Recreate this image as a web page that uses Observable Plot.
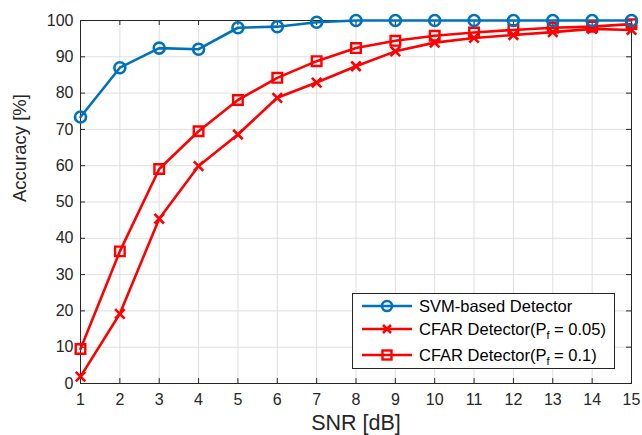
<!DOCTYPE html>
<html>
<head>
<meta charset="utf-8">
<script src="https://cdn.jsdelivr.net/npm/d3@7"></script>
<script src="https://cdn.jsdelivr.net/npm/@observablehq/plot@0.6"></script>
<style>
  body { margin: 0; background: #fff; }
  #wrap { position: relative; width: 642px; height: 435px; overflow: hidden; font-family: "Liberation Sans", Arial, Helvetica, sans-serif; }
  #legend { position: absolute; left: 352px; top: 293px; width: 263px; height: 76px; border: 1px solid #262626; background: #fff; box-sizing: border-box; }
  .row { position: absolute; left: 9px; height: 20px; display: flex; align-items: center; font-size: 16.5px; color: #000; white-space: nowrap; }
  .row svg { margin-right: 7px; flex: none; }
  sub { font-size: 11px; vertical-align: -4px; line-height: 0; }
</style>
</head>
<body>
<div id="wrap"></div>
<script>
const snr = [1, 2, 3, 4, 5, 6, 7, 8, 9, 10, 11, 12, 13, 14, 15];
const svm = [73.4, 87, 92.4, 92.1, 98, 98.3, 99.5, 100, 100, 100, 100, 100, 100, 100, 100];
const cfar05 = [1.9, 19.2, 45.4, 59.9, 68.6, 78.7, 82.9, 87.4, 91.5, 93.9, 95.2, 96, 96.8, 97.7, 97.4];
const cfar10 = [9.5, 36.4, 59.1, 69.5, 78.1, 84.2, 88.8, 92.4, 94.4, 95.8, 96.7, 97.4, 98, 98.3, 99];
const xTicks = snr;
const yTicks = [0, 10, 20, 30, 40, 50, 60, 70, 80, 90, 100];

const blue = "#0072BD";
const red = "#FF0000";
const W = 642, H = 435;
const mt = 20, mb = 52, ml = 80, mr = 11;
const ph = H - mt - mb, pw = W - ml - mr;
const tk = 5;

const mk = (ys) => snr.map((x, i) => ({x, y: ys[i]}));
const dSvm = mk(svm), d05 = mk(cfar05), d10 = mk(cfar10);

const chart = Plot.plot({
  width: W, height: H,
  marginTop: mt, marginBottom: mb, marginLeft: ml, marginRight: mr,
  style: {fontFamily: '"Liberation Sans", Arial, Helvetica, sans-serif', fontSize: "16px", color: "#262626", background: "#fff", overflow: "visible"},
  x: {domain: [1, 15], ticks: xTicks},
  y: {domain: [0, 100], ticks: yTicks},
  marks: [
    Plot.gridX(xTicks, {stroke: "#dfdfdf", strokeOpacity: 1, strokeWidth: 1}),
    Plot.gridY(yTicks, {stroke: "#dfdfdf", strokeOpacity: 1, strokeWidth: 1}),
    Plot.tickX(xTicks, {x: d => d, insetTop: ph - tk, stroke: "#262626"}),
    Plot.tickX(xTicks, {x: d => d, insetBottom: ph - tk, stroke: "#262626"}),
    Plot.tickY(yTicks, {y: d => d, insetRight: pw - tk, stroke: "#262626"}),
    Plot.tickY(yTicks, {y: d => d, insetLeft: pw - tk, stroke: "#262626"}),
    Plot.frame({stroke: "#262626", strokeWidth: 1}),
    Plot.axisX({ticks: xTicks, tickSize: 0, tickPadding: 10, fontSize: 16, label: null}),
    Plot.axisY({ticks: yTicks, tickSize: 0, tickPadding: 7, fontSize: 16, label: null}),
    Plot.line(d05, {x: "x", y: "y", stroke: red, strokeWidth: 2.6}),
    Plot.line(d10, {x: "x", y: "y", stroke: red, strokeWidth: 2.6}),
    Plot.line(dSvm, {x: "x", y: "y", stroke: blue, strokeWidth: 2.6}),
    Plot.dot(d05, {x: "x", y: "y", symbol: "times", r: 4.4, stroke: red, strokeWidth: 2.6}),
    Plot.dot(d10, {x: "x", y: "y", symbol: "square", r: 5.4, stroke: red, strokeWidth: 2.4, fill: "none"}),
    Plot.dot(dSvm, {x: "x", y: "y", symbol: "circle", r: 5.5, stroke: blue, strokeWidth: 2.6, fill: "none"}),
    Plot.text(["SNR [dB]"], {frameAnchor: "bottom", dy: 46, fontSize: 21.5, fill: "#262626"}),
    Plot.text(["Accuracy [%]"], {frameAnchor: "left", dx: -60, rotate: -90, fontSize: 18.5, fill: "#262626"})
  ]
});

const wrap = document.getElementById("wrap");
wrap.appendChild(chart);

const legendItems = [
  {label: "SVM-based Detector", color: blue, sym: "circle"},
  {label: 'CFAR Detector(P<sub>f</sub> = 0.05)', color: red, sym: "times"},
  {label: 'CFAR Detector(P<sub>f</sub> = 0.1)', color: red, sym: "square"}
];
const legend = document.createElement("div");
legend.id = "legend";
const tops = [2, 25, 51];
legendItems.forEach((it, i) => {
  const row = document.createElement("div");
  row.className = "row";
  row.style.top = tops[i] + "px";
  let symSvg = "";
  if (it.sym === "circle") symSvg = `<circle cx="25" cy="10" r="5" fill="none" stroke="${it.color}" stroke-width="2.6"/>`;
  if (it.sym === "times") symSvg = `<path d="M21,6L29,14M29,6L21,14" stroke="${it.color}" stroke-width="2.6"/>`;
  if (it.sym === "square") symSvg = `<rect x="20.5" y="5.5" width="9" height="9" fill="none" stroke="${it.color}" stroke-width="2.4"/>`;
  row.innerHTML = `<svg width="50" height="20"><line x1="0" y1="10" x2="50" y2="10" stroke="${it.color}" stroke-width="2.6"/>${symSvg}</svg><span>${it.label}</span>`;
  legend.appendChild(row);
});
wrap.appendChild(legend);
</script>
</body>
</html>
